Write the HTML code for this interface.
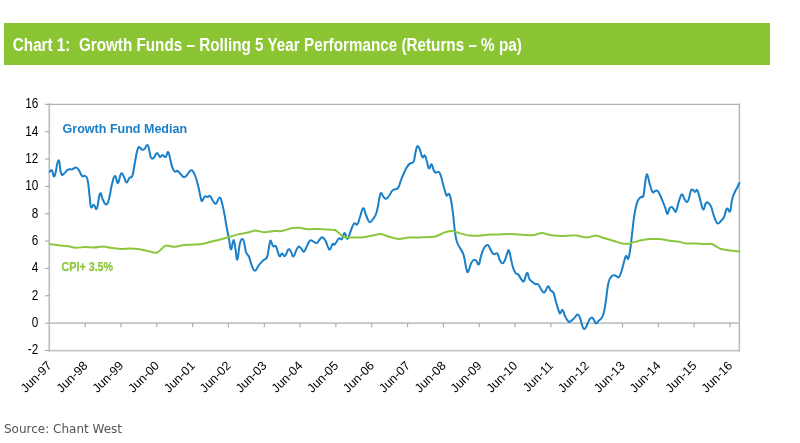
<!DOCTYPE html>
<html><head><meta charset="utf-8"><title>Chart 1: Growth Funds</title>
<style>
html,body{margin:0;padding:0;background:#fff;}
svg{display:block}
.ax{font-family:"Liberation Sans",sans-serif;font-size:13.33px;fill:#000}
.xl{font-size:12.4px}
.yl{font-size:14px}
</style></head><body>
<svg width="800" height="443" viewBox="0 0 800 443">
<rect width="800" height="443" fill="#fff"/>
<rect x="4" y="23" width="766" height="42" fill="#8bc533"/>
<text x="12.8" y="50.5" font-family="'Liberation Sans',sans-serif" font-weight="bold" font-size="17.5" fill="#fff" textLength="509" lengthAdjust="spacingAndGlyphs" xml:space="preserve">Chart 1:  Growth Funds – Rolling 5 Year Performance (Returns – % pa)</text>
<path d="M49.3 103.54999999999997V351.5M739.35 103.54999999999997V351.5" fill="none" stroke="#bcbcbc" stroke-width="1.6"/>
<path d="M48.5 104.34999999999997H740.15" fill="none" stroke="#b4b4b4" stroke-width="1.4"/>
<path d="M48.5 350.7H740.15M49.3 323.15H739.35" fill="none" stroke="#c4c4c4" stroke-width="1.8"/>
<path d="M45.0 350.5H49.3" stroke="#a6a6a6" stroke-width="1.1"/>
<text transform="translate(38.3 354.4) scale(0.84 1)" text-anchor="end" class="ax yl">-2</text>
<path d="M45.0 323.15H49.3" stroke="#a6a6a6" stroke-width="1.1"/>
<text transform="translate(38.3 327.0) scale(0.84 1)" text-anchor="end" class="ax yl">0</text>
<path d="M45.0 295.79999999999995H49.3" stroke="#a6a6a6" stroke-width="1.1"/>
<text transform="translate(38.3 299.7) scale(0.84 1)" text-anchor="end" class="ax yl">2</text>
<path d="M45.0 268.45H49.3" stroke="#a6a6a6" stroke-width="1.1"/>
<text transform="translate(38.3 272.3) scale(0.84 1)" text-anchor="end" class="ax yl">4</text>
<path d="M45.0 241.09999999999997H49.3" stroke="#a6a6a6" stroke-width="1.1"/>
<text transform="translate(38.3 245.0) scale(0.84 1)" text-anchor="end" class="ax yl">6</text>
<path d="M45.0 213.74999999999997H49.3" stroke="#a6a6a6" stroke-width="1.1"/>
<text transform="translate(38.3 217.6) scale(0.84 1)" text-anchor="end" class="ax yl">8</text>
<path d="M45.0 186.39999999999998H49.3" stroke="#a6a6a6" stroke-width="1.1"/>
<text transform="translate(38.3 190.3) scale(0.84 1)" text-anchor="end" class="ax yl">10</text>
<path d="M45.0 159.04999999999995H49.3" stroke="#a6a6a6" stroke-width="1.1"/>
<text transform="translate(38.3 162.9) scale(0.84 1)" text-anchor="end" class="ax yl">12</text>
<path d="M45.0 131.69999999999996H49.3" stroke="#a6a6a6" stroke-width="1.1"/>
<text transform="translate(38.3 135.6) scale(0.84 1)" text-anchor="end" class="ax yl">14</text>
<path d="M45.0 104.34999999999997H49.3" stroke="#a6a6a6" stroke-width="1.1"/>
<text transform="translate(38.3 108.2) scale(0.84 1)" text-anchor="end" class="ax yl">16</text>
<text transform="translate(52.5 366.4) rotate(-45)" text-anchor="end" class="ax xl">Jun-97</text>
<path d="M85.2 323.15v4.1" stroke="#a6a6a6" stroke-width="1.1"/>
<text transform="translate(88.4 366.4) rotate(-45)" text-anchor="end" class="ax xl">Jun-98</text>
<path d="M121.0 323.15v4.1" stroke="#a6a6a6" stroke-width="1.1"/>
<text transform="translate(124.2 366.4) rotate(-45)" text-anchor="end" class="ax xl">Jun-99</text>
<path d="M156.8 323.15v4.1" stroke="#a6a6a6" stroke-width="1.1"/>
<text transform="translate(160.0 366.4) rotate(-45)" text-anchor="end" class="ax xl">Jun-00</text>
<path d="M192.6 323.15v4.1" stroke="#a6a6a6" stroke-width="1.1"/>
<text transform="translate(195.8 366.4) rotate(-45)" text-anchor="end" class="ax xl">Jun-01</text>
<path d="M228.4 323.15v4.1" stroke="#a6a6a6" stroke-width="1.1"/>
<text transform="translate(231.6 366.4) rotate(-45)" text-anchor="end" class="ax xl">Jun-02</text>
<path d="M264.3 323.15v4.1" stroke="#a6a6a6" stroke-width="1.1"/>
<text transform="translate(267.5 366.4) rotate(-45)" text-anchor="end" class="ax xl">Jun-03</text>
<path d="M300.1 323.15v4.1" stroke="#a6a6a6" stroke-width="1.1"/>
<text transform="translate(303.3 366.4) rotate(-45)" text-anchor="end" class="ax xl">Jun-04</text>
<path d="M335.9 323.15v4.1" stroke="#a6a6a6" stroke-width="1.1"/>
<text transform="translate(339.1 366.4) rotate(-45)" text-anchor="end" class="ax xl">Jun-05</text>
<path d="M371.7 323.15v4.1" stroke="#a6a6a6" stroke-width="1.1"/>
<text transform="translate(374.9 366.4) rotate(-45)" text-anchor="end" class="ax xl">Jun-06</text>
<path d="M407.6 323.15v4.1" stroke="#a6a6a6" stroke-width="1.1"/>
<text transform="translate(410.8 366.4) rotate(-45)" text-anchor="end" class="ax xl">Jun-07</text>
<path d="M443.4 323.15v4.1" stroke="#a6a6a6" stroke-width="1.1"/>
<text transform="translate(446.6 366.4) rotate(-45)" text-anchor="end" class="ax xl">Jun-08</text>
<path d="M479.2 323.15v4.1" stroke="#a6a6a6" stroke-width="1.1"/>
<text transform="translate(482.4 366.4) rotate(-45)" text-anchor="end" class="ax xl">Jun-09</text>
<path d="M515.0 323.15v4.1" stroke="#a6a6a6" stroke-width="1.1"/>
<text transform="translate(518.2 366.4) rotate(-45)" text-anchor="end" class="ax xl">Jun-10</text>
<path d="M550.9 323.15v4.1" stroke="#a6a6a6" stroke-width="1.1"/>
<text transform="translate(554.1 366.4) rotate(-45)" text-anchor="end" class="ax xl">Jun-11</text>
<path d="M586.7 323.15v4.1" stroke="#a6a6a6" stroke-width="1.1"/>
<text transform="translate(589.9 366.4) rotate(-45)" text-anchor="end" class="ax xl">Jun-12</text>
<path d="M622.5 323.15v4.1" stroke="#a6a6a6" stroke-width="1.1"/>
<text transform="translate(625.7 366.4) rotate(-45)" text-anchor="end" class="ax xl">Jun-13</text>
<path d="M658.3 323.15v4.1" stroke="#a6a6a6" stroke-width="1.1"/>
<text transform="translate(661.5 366.4) rotate(-45)" text-anchor="end" class="ax xl">Jun-14</text>
<path d="M694.1 323.15v4.1" stroke="#a6a6a6" stroke-width="1.1"/>
<text transform="translate(697.3 366.4) rotate(-45)" text-anchor="end" class="ax xl">Jun-15</text>
<path d="M730.0 323.15v4.1" stroke="#a6a6a6" stroke-width="1.1"/>
<text transform="translate(733.2 366.4) rotate(-45)" text-anchor="end" class="ax xl">Jun-16</text>
<path d="M49.7 171.8C50.2 171.5 50.9 169.4 52.0 170.4C53.1 171.4 53.1 178.3 54.6 176.0C56.1 173.7 56.9 161.1 58.4 160.4C59.9 159.7 59.8 169.8 61.0 173.0C62.2 176.2 62.0 174.8 63.6 174.0C65.2 173.2 66.0 170.7 68.0 169.6C70.0 168.5 70.1 169.9 72.0 169.4C73.9 168.9 74.4 167.4 76.0 167.6C77.6 167.8 77.6 168.4 79.0 170.4C80.4 172.4 80.6 174.7 82.0 176.0C83.4 177.3 83.7 175.1 85.0 176.0C86.3 176.9 86.5 175.3 87.6 180.0C88.7 184.7 88.8 189.7 89.6 196.0C90.4 202.3 90.0 204.9 91.0 207.0C92.0 209.1 92.4 204.5 93.8 204.8C95.2 205.1 95.5 211.0 96.9 208.4C98.3 205.8 98.6 195.6 100.0 193.6C101.4 191.6 101.6 197.5 103.0 200.0C104.4 202.5 104.6 204.6 106.0 204.4C107.4 204.2 107.6 203.8 109.0 199.0C110.4 194.2 110.6 189.4 112.0 184.0C113.4 178.6 113.6 176.2 115.0 176.0C116.4 175.8 116.6 183.6 118.0 183.0C119.4 182.4 119.6 175.0 121.0 173.6C122.4 172.2 122.7 174.9 124.0 177.0C125.3 179.1 125.3 182.3 126.6 182.4C127.9 182.5 128.2 179.2 129.6 177.6C131.0 176.0 131.1 179.2 132.4 175.6C133.7 172.0 133.9 167.6 135.0 162.0C136.1 156.4 136.1 155.1 137.0 151.6C137.9 148.1 137.8 147.5 139.0 147.0C140.2 146.5 140.7 149.1 142.0 149.6C143.3 150.1 143.1 150.1 144.4 149.0C145.7 147.9 146.4 144.3 147.6 145.0C148.8 145.7 148.8 149.0 149.6 152.0C150.4 155.0 150.2 156.7 151.2 158.0C152.2 159.3 152.6 158.8 154.0 157.6C155.4 156.4 155.6 153.1 157.0 153.0C158.4 152.9 158.7 156.5 160.0 157.0C161.3 157.5 161.3 155.0 162.6 155.0C163.9 155.0 164.3 157.7 165.6 157.0C166.9 156.3 167.1 151.3 168.2 152.0C169.3 152.7 169.4 156.4 170.4 160.0C171.4 163.6 171.3 164.9 172.4 167.6C173.5 170.3 173.8 170.8 175.0 171.6C176.2 172.4 176.2 170.3 177.6 171.0C179.0 171.7 179.5 173.0 181.0 174.4C182.5 175.8 182.6 177.1 184.0 177.2C185.4 177.3 185.5 176.5 187.0 175.0C188.5 173.5 189.0 171.5 190.4 170.6C191.8 169.7 191.8 169.8 193.0 171.3C194.2 172.8 194.3 173.3 195.6 177.0C196.9 180.7 197.1 181.9 198.4 187.0C199.7 192.1 200.1 195.9 201.0 199.0C201.9 202.1 201.5 201.0 202.4 200.4C203.3 199.8 203.8 197.2 205.0 196.4C206.2 195.6 206.4 197.1 207.6 197.0C208.8 196.9 208.7 195.1 210.0 196.0C211.3 196.9 211.6 199.2 213.0 201.0C214.4 202.8 214.5 204.4 216.0 203.6C217.5 202.8 218.2 197.5 219.6 197.4C221.0 197.3 220.9 199.1 222.0 203.0C223.1 206.9 223.3 208.4 224.4 214.0C225.5 219.6 225.5 221.2 226.6 227.0C227.7 232.8 228.0 233.8 229.0 239.0C230.0 244.2 229.9 249.2 231.0 249.4C232.1 249.6 232.5 239.9 233.6 240.0C234.7 240.1 234.7 245.5 235.6 250.0C236.5 254.5 236.4 261.0 237.4 259.4C238.4 257.8 238.7 247.7 240.0 243.0C241.3 238.3 241.9 238.7 243.0 239.4C244.1 240.1 244.1 243.2 244.8 246.0C245.5 248.8 245.2 249.5 245.8 251.5C246.4 253.5 246.7 253.2 247.5 254.5C248.3 255.8 248.4 255.4 249.1 257.0C249.8 258.6 249.8 259.4 250.5 261.5C251.2 263.6 250.9 263.8 252.0 266.0C253.1 268.2 253.4 271.0 255.0 270.8C256.6 270.6 257.1 267.4 259.0 265.0C260.9 262.6 261.1 262.5 263.0 260.6C264.9 258.7 265.6 260.2 267.0 257.0C268.4 253.8 268.2 250.8 269.0 247.0C269.8 243.2 269.7 240.8 270.6 240.6C271.5 240.4 271.7 244.6 273.0 246.0C274.3 247.4 274.5 244.3 276.0 246.6C277.5 248.9 278.0 254.4 279.4 256.0C280.8 257.6 280.7 253.4 282.0 253.4C283.3 253.4 283.5 256.9 285.0 256.0C286.5 255.1 287.0 250.3 288.4 249.4C289.8 248.5 289.8 250.4 291.0 252.0C292.2 253.6 292.3 256.9 293.6 256.4C294.9 255.9 295.1 252.3 296.4 250.0C297.7 247.7 297.8 246.8 299.0 246.6C300.2 246.4 300.4 247.8 301.6 249.0C302.8 250.2 302.7 252.3 304.0 251.6C305.3 250.9 305.6 248.6 307.0 246.0C308.4 243.4 308.5 241.6 310.0 240.6C311.5 239.6 312.0 241.0 313.6 241.6C315.2 242.2 315.5 243.6 317.0 243.0C318.5 242.4 318.7 240.3 320.0 239.0C321.3 237.7 321.3 236.9 322.6 237.4C323.9 237.9 324.3 238.8 325.6 241.0C326.9 243.2 327.0 245.0 328.0 247.0C329.0 249.0 328.9 250.1 330.0 249.4C331.1 248.7 331.5 245.1 332.6 244.0C333.7 242.9 333.6 245.3 334.6 244.6C335.6 243.9 336.0 242.4 337.0 241.0C338.0 239.6 337.8 238.9 339.0 238.4C340.2 237.9 340.7 240.3 342.0 239.0C343.3 237.7 343.3 233.0 344.6 233.0C345.9 233.0 346.1 239.0 347.4 239.0C348.7 239.0 348.5 236.5 350.0 233.0C351.5 229.5 352.1 225.8 353.8 223.8C355.5 221.8 355.9 225.9 357.3 224.3C358.7 222.7 358.6 220.8 360.0 217.0C361.4 213.2 361.8 208.7 363.2 208.2C364.6 207.7 364.6 211.8 366.0 215.0C367.4 218.2 367.8 221.1 369.4 222.0C371.0 222.9 371.5 220.9 373.0 219.0C374.5 217.1 374.8 217.0 376.0 214.0C377.2 211.0 377.2 209.7 378.0 206.0C378.8 202.3 378.7 201.0 379.4 198.0C380.1 195.0 380.0 193.2 381.0 193.0C382.0 192.8 382.3 195.7 383.6 197.0C384.9 198.3 385.0 199.1 386.4 198.6C387.8 198.1 388.1 197.0 389.6 195.0C391.1 193.0 391.0 191.6 393.0 190.0C395.0 188.4 396.1 190.3 398.0 188.0C399.9 185.7 399.6 183.5 401.0 180.0C402.4 176.5 402.6 176.0 404.0 173.0C405.4 170.0 405.6 169.2 407.0 167.0C408.4 164.8 408.5 164.9 410.0 163.6C411.5 162.3 412.3 164.3 413.6 161.6C414.9 158.9 414.7 155.6 415.6 152.0C416.5 148.4 416.4 146.9 417.3 146.2C418.2 145.5 418.4 146.5 419.6 149.0C420.8 151.5 421.1 155.5 422.4 157.0C423.7 158.5 423.9 154.4 425.0 155.6C426.1 156.8 426.1 159.0 427.0 162.0C427.9 165.0 427.9 167.8 429.0 168.4C430.1 169.0 430.5 164.0 431.6 164.4C432.7 164.8 432.7 168.1 433.6 170.0C434.5 171.9 434.5 172.1 435.6 172.6C436.7 173.1 437.2 171.4 438.4 172.0C439.6 172.6 439.5 172.2 440.6 175.0C441.7 177.8 442.0 180.3 443.0 184.0C444.0 187.7 444.2 188.3 445.0 191.0C445.8 193.7 445.7 194.9 446.6 195.6C447.5 196.3 448.0 193.0 449.0 194.0C450.0 195.0 450.1 195.4 451.0 200.0C451.9 204.6 452.1 206.0 453.0 213.5C453.9 221.0 454.1 225.3 455.0 232.0C455.9 238.7 455.8 238.3 457.0 242.0C458.2 245.7 458.5 245.0 460.0 248.0C461.5 251.0 462.2 250.6 463.6 255.0C465.0 259.4 465.0 263.0 466.0 267.0C467.0 271.0 466.8 272.8 468.0 272.0C469.2 271.2 469.7 266.4 471.0 263.6C472.3 260.8 472.4 260.7 473.6 260.0C474.8 259.3 475.1 259.8 476.3 260.8C477.5 261.8 477.8 265.5 478.9 264.4C480.0 263.3 479.8 259.8 481.0 256.0C482.2 252.2 482.5 250.6 484.0 248.0C485.5 245.4 486.2 244.9 487.6 245.0C489.0 245.1 488.7 246.4 490.0 248.5C491.3 250.6 491.7 252.9 493.3 254.0C494.9 255.1 495.6 252.7 496.8 253.2C498.0 253.7 497.8 254.3 498.5 256.0C499.2 257.7 499.1 258.8 500.0 260.5C500.9 262.2 501.2 263.1 502.3 263.2C503.4 263.3 503.5 263.1 504.6 261.0C505.7 258.9 506.0 256.4 507.0 254.0C508.0 251.6 508.1 249.4 509.0 250.6C509.9 251.8 510.1 255.1 511.0 259.0C511.9 262.9 511.9 264.2 513.0 267.5C514.0 270.8 514.2 271.3 515.5 273.0C516.8 274.7 517.1 273.2 518.5 274.7C519.9 276.2 520.2 278.0 521.5 279.5C522.8 281.0 522.7 282.5 524.0 281.0C525.3 279.5 525.7 273.5 527.0 273.0C528.3 272.5 528.2 277.0 529.4 279.0C530.6 281.0 530.6 280.4 532.0 281.6C533.4 282.8 533.9 283.3 535.4 284.0C536.9 284.7 537.0 283.2 538.4 284.6C539.8 286.0 540.2 288.2 541.6 290.0C543.0 291.8 542.9 293.2 544.4 292.4C545.9 291.6 546.6 286.9 548.0 286.4C549.4 285.9 549.3 288.9 550.6 290.4C551.9 291.9 552.3 290.3 553.6 293.0C554.9 295.7 554.7 297.7 556.0 302.0C557.3 306.3 558.0 309.0 559.0 311.6C560.0 314.2 559.6 313.4 560.4 313.0C561.2 312.6 561.5 309.3 562.6 310.0C563.7 310.7 563.7 313.4 565.0 316.0C566.3 318.6 566.8 319.7 568.0 321.0C569.2 322.3 568.6 322.2 570.0 321.6C571.4 321.0 572.2 320.0 574.0 318.4C575.8 316.8 576.2 314.7 577.6 314.6C579.0 314.5 578.9 315.3 580.0 318.0C581.1 320.7 581.4 323.4 582.4 326.0C583.4 328.6 583.3 329.2 584.4 329.0C585.5 328.8 585.8 327.2 587.0 325.0C588.2 322.8 588.4 321.1 589.6 319.4C590.8 317.7 591.0 317.5 592.0 317.6C593.0 317.7 593.1 318.6 594.0 320.0C594.9 321.4 594.8 323.3 596.0 323.4C597.2 323.5 597.7 321.7 599.0 320.4C600.3 319.1 600.4 320.0 601.6 318.0C602.8 316.0 603.0 316.2 604.0 312.0C605.0 307.8 605.1 306.3 606.0 300.0C606.9 293.7 607.1 290.0 608.0 285.0C608.9 280.0 608.8 280.8 610.0 278.5C611.2 276.2 611.6 275.9 613.0 275.3C614.4 274.7 614.6 275.6 616.0 276.0C617.4 276.4 617.7 278.2 619.0 277.0C620.3 275.8 620.3 274.5 621.5 271.0C622.7 267.5 623.0 265.5 624.0 262.0C625.0 258.5 625.0 256.8 626.0 256.0C627.0 255.2 627.3 259.9 628.2 258.7C629.1 257.5 629.1 256.6 630.0 251.0C630.9 245.4 631.1 242.3 632.0 234.5C632.9 226.7 633.1 224.0 634.0 217.5C634.9 211.0 635.0 210.6 636.0 206.5C637.0 202.4 637.0 202.2 638.2 200.0C639.4 197.8 639.8 198.0 641.0 197.0C642.2 196.0 642.5 198.6 643.4 195.6C644.3 192.6 644.3 188.8 645.0 184.0C645.7 179.2 645.9 176.6 646.6 175.0C647.3 173.4 647.2 174.7 648.0 177.0C648.8 179.3 648.9 181.5 650.0 185.0C651.1 188.5 651.4 190.6 652.6 192.0C653.8 193.4 653.8 191.2 655.0 191.0C656.2 190.8 656.4 190.1 657.6 191.0C658.8 191.9 658.7 192.4 660.0 195.0C661.3 197.6 661.7 198.7 663.0 202.0C664.3 205.3 664.6 206.2 665.6 209.0C666.6 211.8 666.5 214.1 667.4 214.0C668.3 213.9 668.6 210.0 669.6 208.4C670.6 206.8 670.6 206.8 671.6 207.0C672.6 207.2 673.0 208.4 674.0 209.4C675.0 210.4 675.0 212.9 676.0 211.4C677.0 209.9 677.3 206.5 678.4 203.0C679.5 199.5 679.7 198.4 680.6 196.4C681.5 194.4 681.5 194.0 682.4 194.6C683.3 195.2 683.3 197.3 684.4 199.0C685.5 200.7 685.9 202.2 687.0 202.0C688.1 201.8 688.1 200.7 689.0 198.0C689.9 195.3 690.1 192.5 691.0 190.6C691.9 188.7 692.1 189.7 693.0 190.0C693.9 190.3 694.1 192.0 695.0 192.0C695.9 192.0 696.1 189.3 697.0 190.0C697.9 190.7 698.1 192.0 699.0 195.0C699.9 198.0 700.0 199.6 701.0 203.0C702.0 206.4 702.3 209.5 703.4 209.6C704.5 209.7 704.5 205.2 705.6 203.6C706.7 202.0 706.7 201.9 708.0 202.6C709.3 203.3 709.8 204.0 711.0 206.4C712.2 208.8 711.9 209.7 713.0 213.0C714.1 216.3 714.4 217.9 715.6 220.4C716.8 222.9 716.7 223.5 718.0 223.6C719.3 223.7 719.6 222.5 721.0 221.0C722.4 219.5 722.6 219.9 724.0 217.0C725.4 214.1 725.6 209.9 727.0 208.6C728.4 207.3 728.8 213.4 730.0 211.4C731.2 209.4 731.0 204.3 732.0 200.0C733.0 195.7 733.2 195.8 734.4 193.0C735.6 190.2 735.8 190.3 737.0 188.0C738.2 185.7 738.8 184.2 739.4 183.0" fill="none" stroke="#1a7fc9" stroke-width="2" stroke-linejoin="round" stroke-linecap="round"/>
<path d="M49.7 244.0C50.7 244.1 58.3 245.2 60.0 245.4C61.7 245.6 65.4 245.8 67.0 246.0C68.6 246.2 74.2 247.7 76.0 247.8C77.8 247.9 83.2 247.0 85.0 247.0C86.8 247.0 92.2 247.6 94.0 247.6C95.8 247.6 101.2 246.6 103.0 246.6C104.8 246.6 110.2 247.8 112.0 248.0C113.8 248.2 119.2 249.0 121.0 249.0C122.8 249.0 128.3 248.4 130.0 248.4C131.7 248.4 136.2 248.7 138.0 249.0C139.8 249.3 146.1 250.6 148.0 251.0C149.9 251.4 155.2 253.1 157.0 252.6C158.8 252.1 163.9 246.2 165.6 245.6C167.3 245.0 172.6 247.1 174.4 247.0C176.2 246.9 182.4 245.2 184.0 245.0C185.6 244.8 188.2 244.9 190.0 244.8C191.8 244.7 199.6 244.4 202.0 244.0C204.4 243.6 211.6 241.6 214.0 241.0C216.4 240.4 223.6 238.7 226.0 238.0C228.4 237.3 235.9 234.9 238.0 234.4C240.1 233.9 245.3 233.2 247.0 232.8C248.7 232.4 253.3 230.5 255.0 230.4C256.7 230.3 262.1 232.2 264.0 232.3C265.9 232.4 272.2 231.1 274.0 231.0C275.8 230.9 280.3 231.4 282.0 231.1C283.7 230.8 289.3 228.5 291.0 228.2C292.7 227.9 297.3 227.6 299.0 227.7C300.7 227.8 306.1 229.2 308.0 229.3C309.9 229.4 316.0 228.9 318.0 228.9C320.0 228.9 326.3 229.5 328.0 229.6C329.7 229.7 333.9 229.6 335.0 230.0C336.1 230.4 338.6 232.8 339.5 233.5C340.4 234.2 342.9 236.6 344.0 237.0C345.1 237.4 348.2 237.4 350.0 237.4C351.8 237.4 359.8 237.6 362.0 237.4C364.2 237.2 370.1 235.9 372.0 235.6C373.9 235.3 378.8 233.9 380.6 234.0C382.4 234.1 388.2 236.5 390.0 237.0C391.8 237.5 397.2 238.9 399.0 239.0C400.8 239.1 405.9 237.8 408.0 237.6C410.1 237.4 417.3 237.5 420.0 237.4C422.7 237.3 432.6 237.1 435.0 236.6C437.4 236.1 442.3 233.2 444.0 232.6C445.7 232.0 450.4 230.9 452.0 231.0C453.6 231.1 458.2 232.9 460.0 233.4C461.8 233.9 468.0 235.4 470.0 235.6C472.0 235.8 478.0 235.7 480.0 235.6C482.0 235.5 488.0 234.6 490.0 234.5C492.0 234.4 497.8 234.5 500.0 234.4C502.2 234.3 509.6 233.9 512.0 234.0C514.4 234.1 521.8 234.9 524.0 235.0C526.2 235.1 532.2 235.2 534.0 235.0C535.8 234.8 540.4 233.0 542.0 233.0C543.6 233.0 548.0 234.7 550.0 235.0C552.0 235.3 559.4 236.0 562.0 236.0C564.6 236.0 573.5 235.2 576.0 235.4C578.5 235.6 585.0 237.6 587.0 237.6C589.0 237.6 593.9 235.6 595.6 235.6C597.3 235.6 602.2 237.5 604.0 238.0C605.8 238.5 612.2 240.5 614.0 241.0C615.8 241.5 620.4 243.2 622.0 243.4C623.6 243.6 628.2 243.7 630.0 243.4C631.8 243.1 638.0 240.8 640.0 240.4C642.0 240.0 648.1 239.1 650.0 239.0C651.9 238.9 657.2 238.9 659.0 239.0C660.8 239.1 666.1 240.1 668.0 240.4C669.9 240.7 676.2 241.3 678.0 241.6C679.8 241.9 684.2 243.2 686.0 243.4C687.8 243.6 694.2 243.3 696.0 243.4C697.8 243.5 702.4 243.9 704.0 244.0C705.6 244.1 710.4 243.5 712.0 244.0C713.6 244.5 718.2 247.9 720.0 248.6C721.8 249.3 728.1 250.3 730.0 250.6C731.9 250.9 738.5 251.3 739.4 251.4" fill="none" stroke="#8cc63e" stroke-width="2" stroke-linejoin="round" stroke-linecap="round"/>
<text x="62.6" y="133.4" font-family="'Liberation Sans',sans-serif" font-weight="bold" font-size="13" fill="#1a7fc9" textLength="124.5" lengthAdjust="spacingAndGlyphs">Growth Fund Median</text>
<text x="61.6" y="271.2" font-family="'Liberation Sans',sans-serif" font-weight="bold" font-size="12.3" fill="#8cc63e" stroke="#8cc63e" stroke-width="0.25" textLength="51.5" lengthAdjust="spacingAndGlyphs">CPI+ 3.5%</text>
<text x="4" y="433.3" font-family="'DejaVu Sans','Liberation Sans',sans-serif" font-size="12" fill="#555" textLength="118" lengthAdjust="spacingAndGlyphs">Source: Chant West</text>
</svg>
</body></html>
